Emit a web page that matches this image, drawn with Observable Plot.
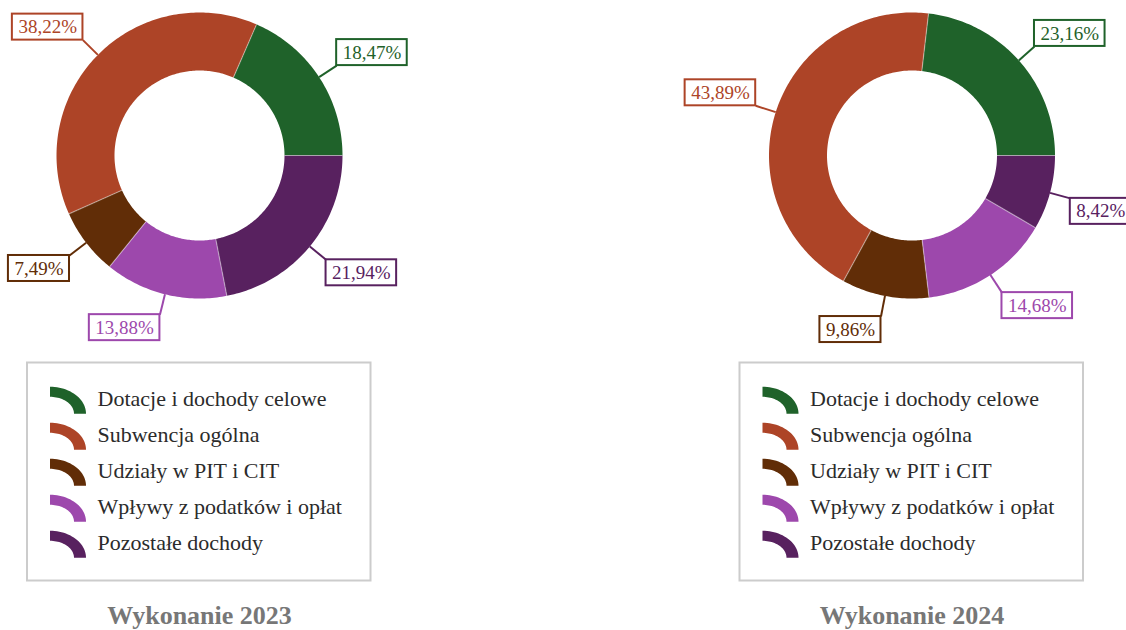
<!DOCTYPE html>
<html>
<head>
<meta charset="utf-8">
<script src="https://cdn.jsdelivr.net/npm/d3@7"></script>
<script src="https://cdn.jsdelivr.net/npm/@observablehq/plot@0.6"></script>
<style>
  html, body { margin: 0; padding: 0; background: #fff; overflow: hidden; }
  svg text { font-family: "Liberation Serif", "Times New Roman", Times, serif !important; }
</style>
</head>
<body>
<div id="chart"></div>
<script>
// ---- data ----
const categories = ["Dotacje i dochody celowe", "Subwencja ogólna", "Udziały w PIT i CIT", "Wpływy z podatków i opłat", "Pozostałe dochody"];
const colors = ["#1f622a", "#ad4427", "#612d07", "#9d48ac", "#58215f"];
const years = ["2023", "2024"];
const titles = ["Wykonanie 2023", "Wykonanie 2024"];
const values2023 = [18.47, 38.22, 7.49, 13.88, 21.94];
const values2024 = [23.16, 43.89, 9.86, 14.68, 8.42];
const valuesByYear = [values2023, values2024];

// ---- layout ----
const W = 1126, H = 630;
const centersX = [199, 911.5];
const cy = 155, rIn = 85, rOut = 143, lineLen = 21;
const FONT = "Liberation Serif, Times New Roman, serif";
const labelSize = 19, legendSize = 22, titleSize = 26;

const ctx = document.createElement("canvas").getContext("2d");
ctx.font = `${labelSize}px "Liberation Serif"`;
const fmt = v => v.toFixed(2).replace(".", ",") + "%";

const slicePts = [], seps = [], leaders = [], boxes = [], legendIcons = [], legendTexts = [], frames = [], titleData = [];

years.forEach((yr, k) => {
  const cx = centersX[k];
  const vals = valuesByYear[k];
  const total = d3.sum(vals);
  const cum = [0, ...d3.cumsum(vals)];
  vals.forEach((v, i) => {
    const a0 = 2 * Math.PI * cum[i] / total;
    const a1 = 2 * Math.PI * cum[i + 1] / total;
    const n = Math.max(4, Math.ceil((a1 - a0) / (Math.PI / 180)));
    const id = yr + "-" + i;
    for (let j = 0; j <= n; j++) {
      const a = a0 + (a1 - a0) * j / n;
      slicePts.push({id, cat: categories[i], x: cx + rOut * Math.cos(a), y: cy - rOut * Math.sin(a)});
    }
    for (let j = n; j >= 0; j--) {
      const a = a0 + (a1 - a0) * j / n;
      slicePts.push({id, cat: categories[i], x: cx + rIn * Math.cos(a), y: cy - rIn * Math.sin(a)});
    }
    seps.push({x1: cx + rIn * Math.cos(a0), y1: cy - rIn * Math.sin(a0), x2: cx + rOut * Math.cos(a0), y2: cy - rOut * Math.sin(a0)});
    // label
    const am = (a0 + a1) / 2;
    const c = Math.cos(am), s = Math.sin(am);
    const sx = cx + rOut * c, sy = cy - rOut * s;
    const ex = cx + (rOut + lineLen) * c, ey = cy - (rOut + lineLen) * s;
    leaders.push({cat: categories[i], x1: sx, y1: sy, x2: ex, y2: ey});
    const text = fmt(v);
    const bw = ctx.measureText(text).width + 12, bh = 26;
    const bx1 = c >= 0 ? ex : ex - bw;
    const by1 = s >= 0 ? ey - bh : ey;
    boxes.push({cat: categories[i], text, x1: bx1, x2: bx1 + bw, y1: by1, y2: by1 + bh, xm: bx1 + bw / 2, ym: by1 + bh / 2});
    // legend
    const rowY = 400 + 36 * i;
    const icx = cx - 149.5, icy = rowY + 13.3;
    const steps = 24;
    for (let j = 0; j <= steps; j++) {
      const a = Math.PI / 2 * (1 - j / steps);
      legendIcons.push({id: yr + "-L" + i, cat: categories[i], x: icx + 36 * Math.cos(a), y: icy - 27 * Math.sin(a)});
    }
    for (let j = steps; j >= 0; j--) {
      const a = Math.PI / 2 * (1 - j / steps);
      legendIcons.push({id: yr + "-L" + i, cat: categories[i], x: icx + 24 * Math.cos(a), y: icy - 17 * Math.sin(a)});
    }
    legendTexts.push({text: categories[i], x: cx - 102, y: rowY - 2});
  });
  frames.push({x1: cx - 172, x2: cx + 171.5, y1: 362.5, y2: 580.5});
  titleData.push({text: titles[k], x: cx, y: 615});
});

const chart = Plot.plot({
  width: W, height: H,
  margin: 0,
  x: {domain: [0, W], range: [0, W], axis: null},
  y: {domain: [0, H], range: [0, H], axis: null},
  color: {domain: categories, range: colors},
  style: {background: "#fff"},
  marks: [
    Plot.line(slicePts, {x: "x", y: "y", z: "id", fill: "cat", stroke: null, curve: "linear"}),
    Plot.link(seps, {x1: "x1", y1: "y1", x2: "x2", y2: "y2", stroke: "#fff", strokeOpacity: 0.4, strokeWidth: 1.2}),
    Plot.link(leaders, {x1: "x1", y1: "y1", x2: "x2", y2: "y2", stroke: "cat", strokeWidth: 2}),
    Plot.rect(boxes, {x1: "x1", x2: "x2", y1: "y1", y2: "y2", fill: "#fff", stroke: "cat", strokeWidth: 2}),
    Plot.text(boxes, {x: "xm", y: "ym", text: "text", fill: "cat", fontSize: labelSize, fontFamily: FONT, textAnchor: "middle", lineAnchor: "middle"}),
    Plot.rect(frames, {x1: "x1", x2: "x2", y1: "y1", y2: "y2", fill: "none", stroke: "#cccccc", strokeWidth: 2}),
    Plot.line(legendIcons, {x: "x", y: "y", z: "id", fill: "cat", stroke: null, curve: "linear"}),
    Plot.text(legendTexts, {x: "x", y: "y", text: "text", fill: "#2b2b2b", fontSize: legendSize, fontFamily: FONT, textAnchor: "start", lineAnchor: "middle"}),
    Plot.text(titleData, {x: "x", y: "y", text: "text", fill: "#777777", fontSize: titleSize, fontFamily: FONT, fontWeight: "bold", textAnchor: "middle", lineAnchor: "middle"})
  ]
});
document.getElementById("chart").appendChild(chart);
</script>
</body>
</html>
